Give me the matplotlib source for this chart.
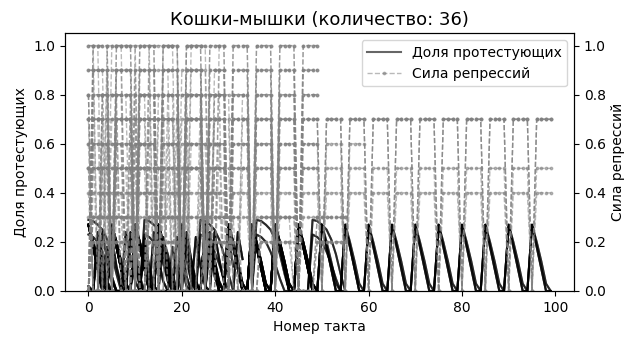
import matplotlib
matplotlib.use("Agg")
import matplotlib.pyplot as plt

# --- one cycle of each regime, starting at the tick where protest flares up ---
# protest share within one cycle
cycle_protest = {
    "p5":  [0.27, 0.18, 0.09, 0.00, 0.00],
    "p5b": [0.27, 0.20, 0.12, 0.03, 0.00],
    "p6":  [0.24, 0.13, 0.04, 0.00, 0.00, 0.00],
    "p7":  [0.22, 0.10, 0.02, 0.00, 0.00, 0.00, 0.00],
    "p8":  [0.18, 0.06, 0.00, 0.00, 0.00, 0.00, 0.00, 0.00],
    "s12": [0.29, 0.285, 0.27, 0.25, 0.21, 0.15, 0.07, 0.00, 0.00, 0.00, 0.00, 0.00],
    "s12b": [0.23, 0.22, 0.20, 0.16, 0.11, 0.05, 0.00, 0.00, 0.00, 0.00, 0.00, 0.00],
}
# whether repression is switched on at each tick of the cycle
cycle_repression = {
    "p5":  [0, 1, 1, 1, 1],
    "p5b": [0, 1, 1, 1, 1],
    "p6":  [0, 1, 1, 1, 1, 0],
    "p7":  [0, 1, 1, 1, 1, 1, 0],
    "p8":  [0, 1, 1, 1, 1, 1, 1, 0],
    "s12": [0, 1, 1, 1, 1, 1, 1, 1, 1, 0, 0, 0],
    "s12b": [0, 1, 1, 1, 1, 1, 1, 1, 0, 0, 0, 0],
}

# --- the 36 runs: regime, repression strength, cycle phase, number of ticks ---
run_regime = ["p5", "p5", "p5b", "p5b", "p5",
              "p5",
              "p5", "p5", "p5", "p5b", "p5b", "p5", "p5", "p5b", "p5b",
              "s12", "s12b", "s12", "s12b",
              "p6", "p6", "p6", "p6", "p6", "p6",
              "p7", "p7", "p7", "p7", "p7", "p7",
              "p8", "p8", "p8", "p8", "p8"]
run_level = [0.7, 0.7, 0.5, 0.4, 0.7,
             0.6,
             1.0, 0.9, 0.8, 0.8, 0.9, 1.0, 0.6, 0.5, 0.3,
             0.2, 0.3, 0.3, 0.2,
             1.0, 0.9, 0.8, 0.7, 0.6, 0.5,
             0.9, 0.8, 0.7, 0.6, 0.5, 0.4,
             1.0, 0.8, 0.7, 0.5, 0.3]
run_phase = [0, 0, 0, 0, 0,
             0,
             0, 0, 0, 0, 0, 0, 0, 0, 0,
             0, 0, 0, 0,
             3, 3, 4, 4, 3, 4,
             2, 5, 2, 5, 2, 5,
             4, 6, 4, 6, 4]
run_length = [100, 100, 100, 100, 100,
              60,
              50, 50, 50, 50, 50, 50, 50, 50, 50,
              56, 56, 56, 56,
              30, 30, 34, 34, 30, 34,
              28, 32, 28, 32, 28, 32,
              26, 30, 26, 30, 26]

fig = plt.figure(figsize=(6.26, 3.37), dpi=100)
ax = fig.add_axes([0.104, 0.1365, 0.813, 0.7645])
ax2 = ax.twinx()

protest_style = dict(color="black", alpha=0.6, lw=1.5)
repression_style = dict(color="gray", alpha=0.55, lw=1.0, ls="--",
                        marker=".", markersize=3.5)

for regime, level, phase, length in zip(run_regime, run_level, run_phase, run_length):
    cp = cycle_protest[regime]
    cr = cycle_repression[regime]
    n = len(cp)
    ticks = list(range(length))
    protest = [cp[(t + phase) % n] for t in ticks]
    repression = [level * cr[(t + phase) % n] for t in ticks]
    ax.plot(ticks, protest, **protest_style)
    ax2.plot(ticks, repression, **repression_style)

ax.set_ylim(0, 1.05)
ax2.set_ylim(0, 1.05)
ax.set_xlim(-5, 104)

ax.set_title("Кошки-мышки (количество: 36)", fontsize=13)
ax.set_xlabel("Номер такта")
ax.set_ylabel("Доля протестующих")
ax2.set_ylabel("Сила репрессий")

h1 = plt.Line2D([], [], **protest_style)
h2 = plt.Line2D([], [], **repression_style)
ax2.legend([h1, h2], ["Доля протестующих", "Сила репрессий"],
           loc="upper right", handlelength=2.4)

fig.savefig("out.png", dpi=100)
